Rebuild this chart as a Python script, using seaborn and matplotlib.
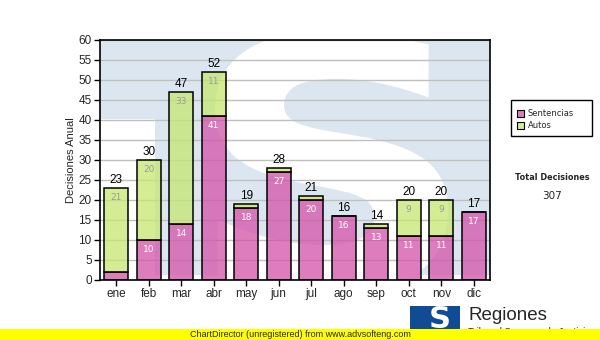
import numpy as np
import pandas as pd
import matplotlib
matplotlib.use("Agg")
import matplotlib.pyplot as plt
import seaborn as sns
from matplotlib.patches import Rectangle, PathPatch
from matplotlib.textpath import TextPath
from matplotlib.font_manager import FontProperties
from matplotlib.transforms import Affine2D
from matplotlib.colors import to_rgba

# ---- data -------------------------------------------------------------
months = ["ene", "feb", "mar", "abr", "may", "jun", "jul", "ago", "sep", "oct", "nov", "dic"]
sentencias = [2, 10, 14, 41, 18, 27, 20, 16, 13, 11, 11, 17]
autos = [21, 20, 33, 11, 1, 1, 1, 0, 1, 9, 9, 0]
series_names = ["Sentencias", "Autos"]
y_ticks = list(range(0, 61, 5))
y_label = "Decisiones Anual"
total_title = "Total Decisiones"

totals = [s + a for s, a in zip(sentencias, autos)]
grand_total = sum(totals)

df = pd.DataFrame({"mes": months, "Sentencias": sentencias, "Autos": autos, "Total": totals})

# ---- style ------------------------------------------------------------
sns.set_style("white")
plt.rcParams["font.family"] = ["Liberation Sans", "DejaVu Sans"]

PINK = to_rgba("#d352a8", 0.75)
GREEN = to_rgba("#c6e670", 0.75)
WATERMARK = "#dce6f0"
W, H = 600, 340


def fx(x):
    return x / W


def fy(y):
    return 1 - y / H


fig = plt.figure(figsize=(W / 100, H / 100), dpi=100)
fig.patch.set_facecolor("white")
ax = fig.add_axes([fx(100), 60 / H, 390 / W, 240 / H])
ax.set_facecolor("white")

# ---- background logo watermark ---------------------------------------
ax.add_patch(Rectangle((0, 0.02), 1, 0.98, transform=ax.transAxes,
                       fc=WATERMARK, ec="none", zorder=0.1))
ax.add_patch(Rectangle((0, 0), 55 / 390, 161 / 240, transform=ax.transAxes,
                       fc="white", ec="none", zorder=0.2))
s_path = TextPath((0, 0), "S", size=1, prop=FontProperties(family="DejaVu Sans", weight="bold"))
bb = s_path.get_extents()
x0, x1 = (215 - 100) / 390, (448 - 100) / 390
y0, y1 = (280 - 292) / 240, (280 - 32) / 240
s_tr = (Affine2D().translate(-bb.x0, -bb.y0)
        .scale((x1 - x0) / bb.width, (y1 - y0) / bb.height)
        .translate(x0, y0) + ax.transAxes)
ax.add_patch(PathPatch(s_path, transform=s_tr, fc="white", ec="none", zorder=0.2))

# ---- stacked bars -----------------------------------------------------
bar_kw = dict(order=months, saturation=1, width=0.74, edgecolor="black",
              linewidth=1.1, errorbar=None, ax=ax, zorder=3)
sns.barplot(data=df, x="mes", y="Sentencias", color=PINK[:3], **bar_kw)
sns.barplot(data=df, x="mes", y="Autos", color=GREEN[:3],
            bottom=df["Sentencias"].to_numpy(), **bar_kw)
for p in ax.containers[0]:
    p.set_facecolor(PINK)
for p in ax.containers[1]:
    p.set_facecolor(GREEN)

# segment value labels
for i, (s, a) in enumerate(zip(sentencias, autos)):
    if s >= 5:
        ax.annotate(str(s), (i, s), xytext=(0, -6.5), textcoords="offset points",
                    ha="center", va="center", color="white", fontsize=6.5,
                    family="DejaVu Sans", zorder=5)
    if a >= 5:
        ax.annotate(str(a), (i, s + a), xytext=(0, -6.5), textcoords="offset points",
                    ha="center", va="center", color="#9a9a9a", fontsize=6.5,
                    family="DejaVu Sans", zorder=5)
# totals above each bar
for i, t in enumerate(totals):
    ax.annotate(str(t), (i, t), xytext=(0, 1.5), textcoords="offset points",
                ha="center", va="bottom", color="black", fontsize=8.5, zorder=5)

# ---- axes -------------------------------------------------------------
ax.set_ylim(0, 60)
ax.set_xlim(-0.5, len(months) - 0.5)
ax.set_yticks(y_ticks)
ax.yaxis.grid(True, color="#c0c0c0", linewidth=1)
ax.set_axisbelow(True)
for gl in ax.get_ygridlines():
    gl.set_zorder(1)
ax.set_xlabel("")
ax.set_ylabel(y_label, fontsize=8, labelpad=2)
ax.tick_params(axis="both", direction="out", length=4, width=1, color="black",
               labelsize=8.5, pad=2, bottom=True, left=True)
for sp in ax.spines.values():
    sp.set_visible(True)
    sp.set_color("black")
    sp.set_linewidth(1.2)
    sp.set_zorder(6)

# ---- legend box -------------------------------------------------------
fig.patches.append(Rectangle((fx(511), fy(136)), 81 / W, 36 / H, transform=fig.transFigure,
                             fc="white", ec="black", lw=1, zorder=5))
for k, (name, col) in enumerate(zip(series_names, [PINK, GREEN])):
    yc = 113.5 + 12 * k
    fig.patches.append(Rectangle((fx(517), fy(yc + 3.5)), 7 / W, 7 / H, transform=fig.transFigure,
                                 fc=col, ec="black", lw=0.8, zorder=6))
    fig.text(fx(528), fy(yc), name, ha="left", va="center", fontsize=6,
             family="DejaVu Sans", zorder=7)

fig.text(fx(552), fy(178), total_title, ha="center", va="center", fontsize=5.9,
         fontweight="bold", family="DejaVu Sans")
fig.text(fx(552), fy(196.5), str(grand_total), ha="center", va="center", fontsize=7.5,
         family="DejaVu Sans")

# ---- logo and footer --------------------------------------------------
fig.patches.append(Rectangle((fx(410), 0), 50 / W, 34 / H, transform=fig.transFigure,
                             fc="#0f4c93", ec="none", zorder=2))
fig.text(fx(440), fy(320), "S", ha="center", va="center", fontsize=22, fontweight="bold",
         color="white", family="DejaVu Sans", zorder=3)
fig.text(fx(468), fy(315), "Regiones", ha="left", va="center", fontsize=13.5, zorder=3)
fig.text(fx(468), fy(331.5), "Tribunal Supremo de Justicia", ha="left", va="center",
         fontsize=6.8, zorder=3)
fig.patches.append(Rectangle((0, 0), 1, 11 / H, transform=fig.transFigure,
                             fc="#ffff00", ec="none", zorder=8))
fig.text(0.5, fy(334.5), "ChartDirector (unregistered) from www.advsofteng.com",
         ha="center", va="center", fontsize=6.5, zorder=9)

fig.savefig("out.png", dpi=100)
